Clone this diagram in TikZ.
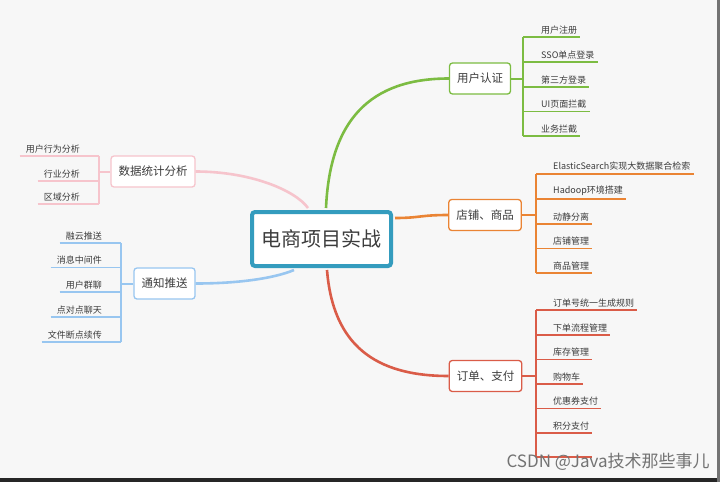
\documentclass[tikz,border=0pt]{standalone}
\usepackage{fontspec}
\setmainfont{Noto Sans CJK SC}
\definecolor{bgc}{RGB}{247,247,247}
\definecolor{hubc}{RGB}{52,156,190}
\definecolor{gc}{RGB}{124,188,66}
\definecolor{oc}{RGB}{234,132,52}
\definecolor{rc}{RGB}{218,92,72}
\definecolor{pc}{RGB}{246,196,204}
\definecolor{bc}{RGB}{152,198,240}
\definecolor{txt}{RGB}{60,60,60}
\definecolor{markc}{RGB}{115,115,115}

\begin{document}
\begin{tikzpicture}[x=1pt, y=1pt,
    hubbox/.style={draw=hubc, line width=4pt, rounded corners=3pt, fill=white,
        minimum width=139pt, minimum height=54pt, text=txt, font=\fontsize{20}{24}\selectfont},
    branch/.style={draw=#1, line width=1.3pt, rounded corners=3pt, fill=white,
        inner xsep=7.5pt, minimum height=31pt, text=txt, font=\fontsize{11.5}{13}\selectfont},
    rleaf/.style={anchor=south west, inner xsep=3pt, inner ysep=3pt, text=txt, font=\fontsize{9}{10}\selectfont},
    lleaf/.style={anchor=south east, inner xsep=6pt, inner ysep=3pt, text=txt, font=\fontsize{9}{10}\selectfont},
    trunk/.style={draw=#1, line width=2.6pt},
    stub/.style={draw=#1, line width=2pt},
    twig/.style={draw=#1, line width=1.2pt}]
        % Frame
        \fill[bgc] (0,0) rectangle (720,-482);
        \useasboundingbox (0,0) rectangle (720,-482);
        \fill[black!85] (0,-478) rectangle (720,-482);
        \fill[black!55] (717,0) rectangle (720,-482);

        % Nodes
        \node (Hub) [hubbox] at (321.5,-239) {电商项目实战};
        \node (Auth) [branch=gc] at (480,-78.5) {用户认证};
        \node (Shop) [branch=oc] at (485,-215) {店铺、商品};
        \node (Order) [branch=rc] at (485.5,-376) {订单、支付};
        \node (Stat) [branch=pc] at (153,-171.5) {数据统计分析};
        \node (Push) [branch=bc] at (164.5,-283.5) {通知推送};

        \coordinate (Av) at (523,-78.5);
        \node (A1) [rleaf] at (538,-37) {用户注册};
        \node (A2) [rleaf] at (538,-62) {SSO单点登录};
        \node (A3) [rleaf] at (538,-87) {第三方登录};
        \node (A4) [rleaf] at (538,-111.5) {UI页面拦截};
        \node (A5) [rleaf] at (538,-136) {业务拦截};

        \coordinate (Gv) at (536,-215);
        \node (G1) [rleaf] at (550,-174) {ElasticSearch实现大数据聚合检索};
        \node (G2) [rleaf] at (550,-199) {Hadoop环境搭建};
        \node (G3) [rleaf] at (550,-224) {动静分离};
        \node (G4) [rleaf] at (550,-248.5) {店铺管理};
        \node (G5) [rleaf] at (550,-273) {商品管理};

        \coordinate (Ov) at (536,-376);
        \node (O1) [rleaf] at (550,-310) {订单号统一生成规则};
        \node (O2) [rleaf] at (550,-335) {下单流程管理};
        \node (O3) [rleaf] at (550,-359.5) {库存管理};
        \node (O4) [rleaf] at (550,-384) {购物车};
        \node (O5) [rleaf] at (550,-408.5) {优惠券支付};
        \node (O6) [rleaf] at (550,-433) {积分支付};
        \coordinate (O7) at (592,-457);

        \coordinate (Sv) at (99,-171.5);
        \node (S1) [lleaf] at (86,-156) {用户行为分析};
        \node (S2) [lleaf] at (86,-181) {行业分析};
        \node (S3) [lleaf] at (86,-204) {区域分析};

        \coordinate (Pv) at (121,-283.5);
        \node (P1) [lleaf] at (108,-243) {融云推送};
        \node (P2) [lleaf] at (108,-267.5) {消息中间件};
        \node (P3) [lleaf] at (108,-292) {用户群聊};
        \node (P4) [lleaf] at (108,-317) {点对点聊天};
        \node (P5) [lleaf] at (108,-342) {文件断点续传};

        % Edges
        \draw[trunk=gc] ([xshift=4.5pt,yshift=2pt]Hub.north) .. controls (330,-120) and (370,-78.5) .. (Auth.west);
        \draw[trunk=oc] ([xshift=2pt,yshift=21pt]Hub.east) .. controls (420,-218) and (420,-215) .. (Shop.west);
        \draw[trunk=rc] ([xshift=5.5pt,yshift=-2pt]Hub.south) .. controls (333,-345) and (375,-376) .. (Order.west);
        \draw[trunk=pc] (Stat.east) .. controls (250,-171.5) and (295,-190) .. ([xshift=-13.5pt,yshift=2pt]Hub.north);
        \draw[trunk=bc] (Push.east) .. controls (240,-283.5) and (275,-278) .. ([xshift=-27.5pt,yshift=-2pt]Hub.south);

        \draw[stub=gc] (Auth) -- (Av);
        \draw[twig=gc] (Av |- A1.south) -- (Av |- A5.south);
        \draw[twig=gc] (Av |- A1.south) -- (A1.south east);
        \draw[twig=gc] (Av |- A2.south) -- (A2.south east);
        \draw[twig=gc] (Av |- A3.south) -- (A3.south east);
        \draw[twig=gc] (Av |- A4.south) -- (A4.south east);
        \draw[twig=gc] (Av |- A5.south) -- (A5.south east);

        \draw[stub=oc] (Shop) -- (Gv);
        \draw[twig=oc] (Gv |- G1.south) -- (Gv |- G5.south);
        \draw[twig=oc] (Gv |- G1.south) -- (G1.south east);
        \draw[twig=oc] (Gv |- G2.south) -- (G2.south east);
        \draw[twig=oc] (Gv |- G3.south) -- (G3.south east);
        \draw[twig=oc] (Gv |- G4.south) -- (G4.south east);
        \draw[twig=oc] (Gv |- G5.south) -- (G5.south east);

        \draw[stub=rc] (Order) -- (Ov);
        \draw[twig=rc] (Ov |- O1.south) -- (Ov |- O7);
        \draw[twig=rc] (Ov |- O1.south) -- (O1.south east);
        \draw[twig=rc] (Ov |- O2.south) -- (O2.south east);
        \draw[twig=rc] (Ov |- O3.south) -- (O3.south east);
        \draw[twig=rc] (Ov |- O4.south) -- (O4.south east);
        \draw[twig=rc] (Ov |- O5.south) -- (O5.south east);
        \draw[twig=rc] (Ov |- O6.south) -- (O6.south east);
        \draw[twig=rc] (Ov |- O7) -- (O7);

        \draw[stub=pc] (Stat) -- (Sv);
        \draw[twig=pc] (Sv |- S1.south) -- (Sv |- S3.south);
        \draw[twig=pc] (S1.south west) -- (Sv |- S1.south);
        \draw[twig=pc] (S2.south west) -- (Sv |- S2.south);
        \draw[twig=pc] (S3.south west) -- (Sv |- S3.south);

        \draw[stub=bc] (Push) -- (Pv);
        \draw[twig=bc] (Pv |- P1.south) -- (Pv |- P5.south);
        \draw[twig=bc] (P1.south west) -- (Pv |- P1.south);
        \draw[twig=bc] (P2.south west) -- (Pv |- P2.south);
        \draw[twig=bc] (P3.south west) -- (Pv |- P3.south);
        \draw[twig=bc] (P4.south west) -- (Pv |- P4.south);
        \draw[twig=bc] (P5.south west) -- (Pv |- P5.south);

        % Watermark
        \node (Mark) [anchor=west, text=markc, font=\fontsize{17}{20}\selectfont] at (503,-462) {CSDN @Java技术那些事儿};
    \end{tikzpicture}
\end{document}
